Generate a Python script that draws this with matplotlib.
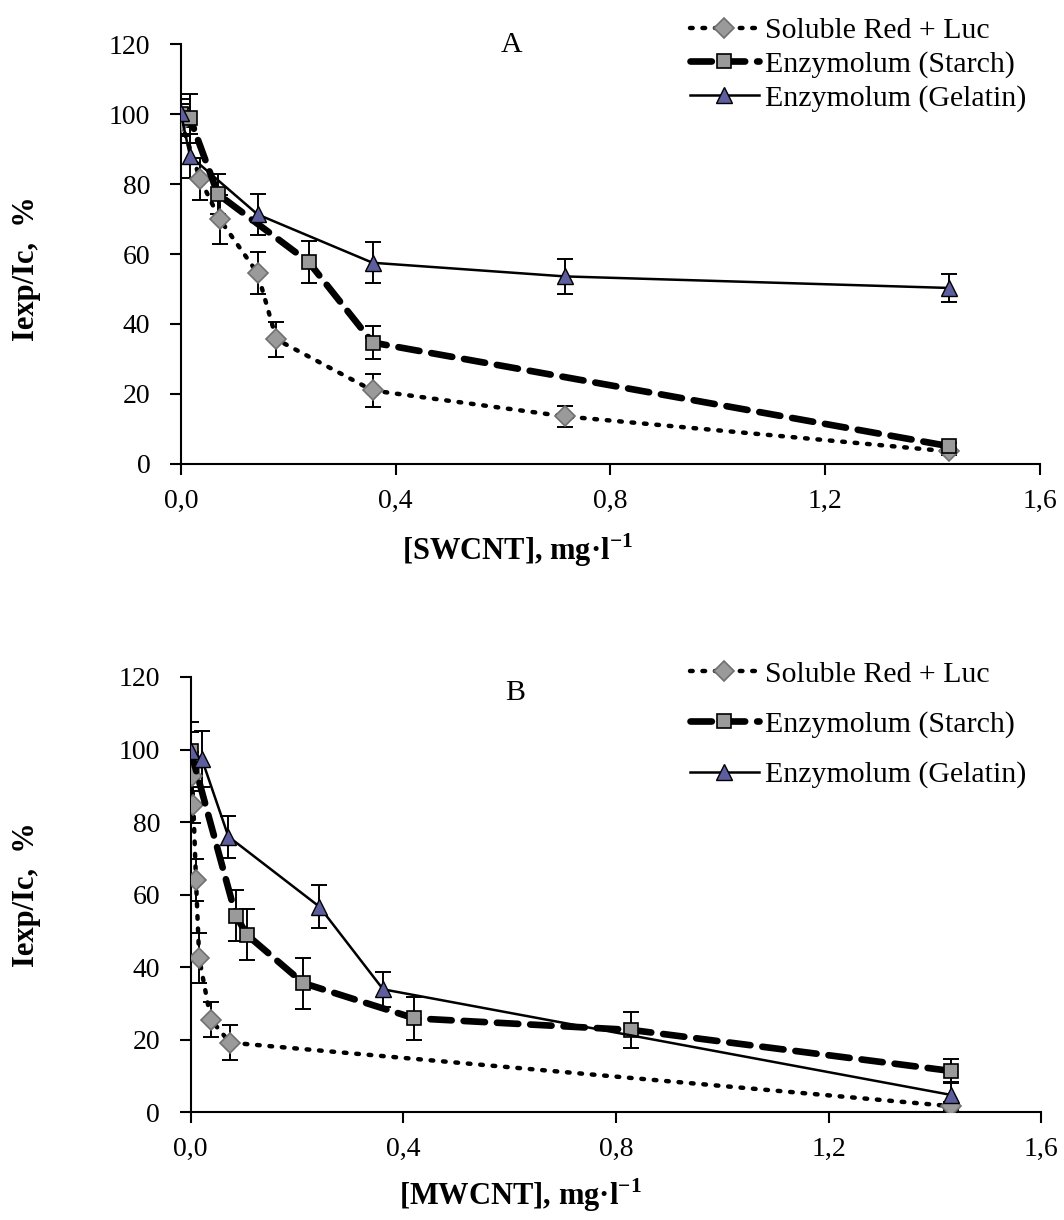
import matplotlib
matplotlib.use('Agg')
import matplotlib.pyplot as plt
from matplotlib.ticker import FuncFormatter

plt.rcParams['font.family'] = ['Liberation Serif', 'DejaVu Serif']
plt.rcParams['mathtext.fontset'] = 'custom'
plt.rcParams['mathtext.rm'] = 'Liberation Serif'
plt.rcParams['mathtext.bf'] = 'Liberation Serif:bold'

labels = ['Soluble Red + Luc', 'Enzymolum (Starch)', 'Enzymolum (Gelatin)']

# Panel A (SWCNT)
a_red_x = [0, 0.036, 0.072, 0.143, 0.178, 0.357, 0.715, 1.43]
a_red_y = [97.8, 81.4, 70.0, 54.5, 35.6, 21.0, 13.6, 3.6]
a_red_err = [4, 6, 7, 6, 5, 4.8, 3, 1]
a_starch_x = [0, 0.017, 0.069, 0.238, 0.357, 1.43]
a_starch_y = [100, 98.8, 77.1, 57.7, 34.7, 5.1]
a_starch_err = [3, 7, 5.8, 6, 4.7, 1]
a_gel_x = [0, 0.017, 0.143, 0.357, 0.715, 1.43]
a_gel_y = [100.2, 88.0, 71.3, 57.5, 53.6, 50.3]
a_gel_err = [4, 6.4, 5.8, 5.8, 5, 4]

# Panel B (MWCNT)
b_red_x = [0, 0.002, 0.005, 0.010, 0.016, 0.038, 0.074, 1.43]
b_red_y = [95.2, 92.6, 84.8, 64.1, 42.5, 25.5, 19.2, 1.7]
b_red_err = [4, 4, 5, 5.8, 7, 4.8, 4.8, 1]
b_starch_x = [0, 0.085, 0.106, 0.212, 0.421, 0.829, 1.43]
b_starch_y = [99.7, 54.2, 48.9, 35.6, 25.9, 22.7, 11.4]
b_starch_err = [8, 7, 7, 7, 6, 4.9, 3.2]
b_gel_x = [0, 0.021, 0.071, 0.242, 0.362, 1.43]
b_gel_y = [99.7, 97.4, 76.0, 56.7, 33.9, 4.8]
b_gel_err = [5, 7.6, 5.8, 6, 4.8, 3.5]

x_ticks = [0.0, 0.4, 0.8, 1.2, 1.6]
y_ticks = [0, 20, 40, 60, 80, 100, 120]

FS = 20
FS_LEG = 21.5
FS_LAB = 22
fig = plt.figure(figsize=(10.64, 12.2), dpi=100)

styles = [
    dict(marker='D', ms=10, mfc='#9a9a9a', mec='#707070', mew=1.2,
         ls=(0, (0.6, 2.2)), lw=3.2, color='black', dash_capstyle='round'),
    dict(marker='s', ms=10, mfc='#9a9a9a', mec='black', mew=1.2,
         ls=(0, (3.2, 1.8)), lw=4.8, color='black', dash_capstyle='round'),
    dict(marker='^', ms=12, mfc='#5c5e9e', mec='black', mew=1.0,
         ls='-', lw=1.8, color='black'),
]


def panel(rect, series, title, tpos, xlabel, xlpos, ylpos, leg_anchor, leg_spacing):
    ax = fig.add_axes(rect)
    handles = []
    for (x, y, e), st, lab in zip(series, styles, labels):
        ax.errorbar(x, y, yerr=e, fmt='none', ecolor='black', elinewidth=1.4,
                    capsize=6, capthick=1.4, zorder=2)
        h, = ax.plot(x, y, label=lab, zorder=3, **st)
        handles.append(h)
    ax.set_xlim(0, 1.6)
    ax.set_ylim(0, 120)
    ax.set_xticks(x_ticks)
    ax.set_yticks(y_ticks)
    ax.xaxis.set_major_formatter(FuncFormatter(lambda v, p: f'{v:.1f}'.replace('.', ',')))
    ax.yaxis.set_major_formatter(FuncFormatter(lambda v, p: f'{int(v)}'))
    for s in ['top', 'right']:
        ax.spines[s].set_visible(False)
    for s in ['left', 'bottom']:
        ax.spines[s].set_linewidth(1.5)
    ax.tick_params(axis='both', direction='out', length=8, width=1.5, labelsize=FS)
    ax.tick_params(axis='x', pad=10)
    ax.tick_params(axis='y', pad=14)
    ax.text(tpos[0], tpos[1], title, transform=ax.transAxes, fontsize=FS_LEG,
            ha='center', va='center')
    fig.text(xlpos[0], xlpos[1], xlabel, fontsize=FS_LAB, fontweight='bold',
             ha='center', va='center')
    fig.text(ylpos[0], ylpos[1], 'Iexp/Ic,  %', fontsize=FS_LAB, fontweight='bold',
             ha='center', va='center', rotation=90)
    fig.legend(handles=handles, loc='upper left', bbox_to_anchor=leg_anchor,
               bbox_transform=fig.transFigure, frameon=False, fontsize=FS_LEG,
               handlelength=2.3, handletextpad=0.2, borderpad=0, borderaxespad=0,
               labelspacing=leg_spacing, numpoints=1)
    return ax


panel([0.170, 0.6197, 0.8074, 0.3442],
      [(a_red_x, a_red_y, a_red_err), (a_starch_x, a_starch_y, a_starch_err),
       (a_gel_x, a_gel_y, a_gel_err)],
      'A', (0.385, 0.998), r'[SWCNT], mg·l$^{\mathbf{-1}}$', (0.486, 0.549),
      (0.025, 0.78), (0.6485, 0.986), 0.23)

panel([0.1792, 0.0883, 0.7993, 0.3568],
      [(b_red_x, b_red_y, b_red_err), (b_starch_x, b_starch_y, b_starch_err),
       (b_gel_x, b_gel_y, b_gel_err)],
      'B', (0.381, 0.963), r'[MWCNT], mg·l$^{\mathbf{-1}}$', (0.489, 0.0205),
      (0.025, 0.2664), (0.6485, 0.4582), 0.77)

fig.savefig('out.png', dpi=100)
